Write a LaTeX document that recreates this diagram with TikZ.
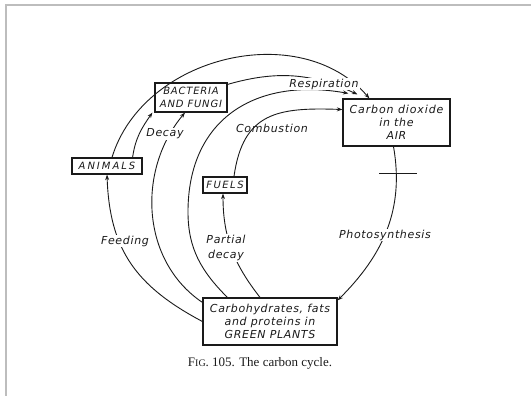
\documentclass[tikz,border=0pt]{standalone}
\usepackage{fontspec}
\newfontfamily\labfont[LetterSpace=6]{DejaVu Sans}
\newfontfamily\capfont{Liberation Serif}
\usetikzlibrary{arrows.meta}
\definecolor{ink}{HTML}{1A1A1A}
\definecolor{framegray}{HTML}{BDBDBD}
\tikzset{
  box/.style={draw=ink, line width=1.2pt, fill=white, inner sep=2pt, align=center,
    font=\labfont\itshape\fontsize{10}{13}\selectfont, text=ink},
  bigbox/.style={box, font=\labfont\itshape\fontsize{11}{13.3}\selectfont},
  lab/.style={fill=white, inner sep=1pt, align=center,
    font=\labfont\itshape\fontsize{11}{14.5}\selectfont, text=ink},
  flow/.style={draw=ink, line width=0.9pt, -{Stealth[length=5.5pt,width=4pt]}},
  tick/.style={draw=ink, line width=0.9pt},
  frameline/.style={draw=framegray, line width=1.5pt}
}
\begin{document}
\begin{tikzpicture}[x=1pt, y=-1pt]
\useasboundingbox (0,0) rectangle (531,396);
\draw[frameline] (531,5) -- (6,5) -- (6,396);

% boxes
\node[box, minimum width=70pt, minimum height=16pt] (animals) at (107,166) {\addfontfeature{LetterSpace=20}ANIMALS};
\node[box, minimum width=72pt, minimum height=29pt] (bact) at (191,97.5) {\addfontfeature{LetterSpace=8}BACTERIA\\\addfontfeature{LetterSpace=8}AND FUNGI};
\node[bigbox, minimum width=107pt, minimum height=47pt] (co2) at (396.5,122.5) {\addfontfeature{LetterSpace=8}Carbon dioxide\\in the\\AIR};
\node[box, minimum width=44pt, minimum height=16pt] (fuels) at (225,185) {\addfontfeature{LetterSpace=15}FUELS};
\node[bigbox, minimum width=134pt, minimum height=47pt] (plants) at (270,321.5) {Carbohydrates, fats\\and proteins in\\GREEN PLANTS};

\coordinate (mid3) at (188,212);

% connectors
% feeding
\draw[flow] (plants.west) to[out=152, in=-88, looseness=1.1] (animals.south);
% animals -> bacteria
\draw[flow] ([xshift=-10pt]animals.north east) to[out=82, in=235] ([xshift=-2pt]bact.south west);
% outer arc animals -> CO2
\draw[flow] ([xshift=5pt]animals.north) to[out=73, in=131, looseness=1.03] ([xshift=27pt]co2.north west);
% decay plants -> bacteria
\draw[flow] ([yshift=-5pt]plants.north west) to[out=146, in=230] ([xshift=-6pt]bact.south);
% bacteria -> CO2 (respiration)
\draw[flow] ([yshift=-2pt]bact.north east) to[out=16, in=155] ([xshift=15pt,yshift=4pt]co2.north west);
% plants -> CO2 (respiration)
\draw[flow] ([xshift=25pt]plants.north west) to[out=135, in=-90] (mid3) to[out=90, in=170, looseness=1.2] ([xshift=6pt,yshift=5pt]co2.north west);
% partial decay plants -> fuels
\draw[flow] ([xshift=-10pt]plants.north) to[out=128, in=-90] ([xshift=-2pt]fuels.south);
% combustion fuels -> CO2
\draw[flow] ([xshift=9pt]fuels.north) to[out=82, in=178, looseness=1.3] ([yshift=13pt]co2.west);
% photosynthesis CO2 -> plants
\draw[flow] ([xshift=-3pt]co2.south) to[out=-80, in=45] ([yshift=-3pt]plants.north east);
% cross tick
\coordinate (tickL) at (379,173);
\coordinate (tickR) at (417,173);
\draw[tick] (tickL) -- (tickR);

% labels
\node[lab] (resp) at (324,84) {Respiration};
\node[lab, fill=none] (comb) at (272,128) {Combustion};
\node[lab] (decay) at (165,134) {Decay};
\node[lab] (feed) at (125,241) {Feeding};
\node[lab] (pdec) at (226,248) {Partial\\decay};
\node[lab] (photo) at (385,235) {Photosynthesis};
\node[font=\capfont\fontsize{13}{15}\selectfont, text=ink] (cap) at (260,363) {F{\fontsize{10}{12}\selectfont IG}. 105. The carbon cycle.};
\end{tikzpicture}
\end{document}
